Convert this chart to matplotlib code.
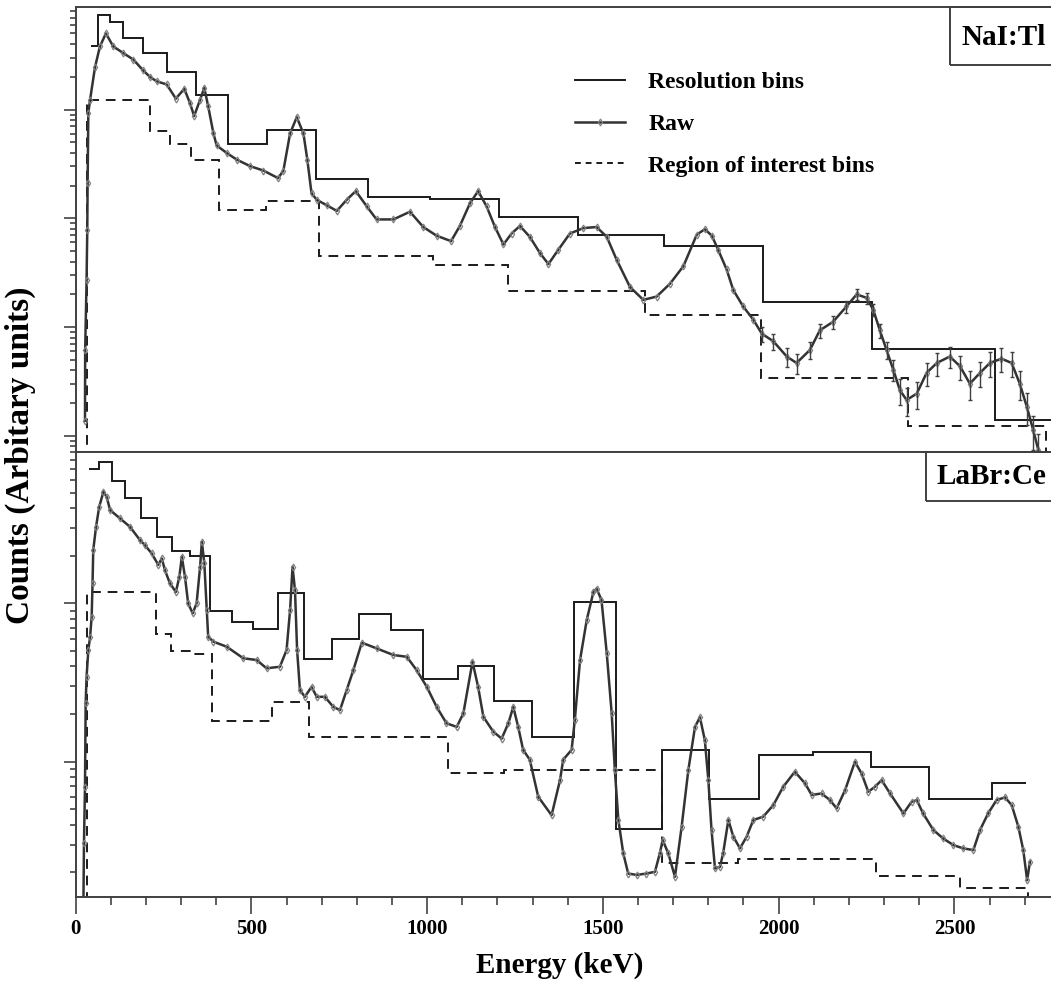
import numpy as np
import matplotlib.pyplot as plt
from matplotlib.lines import Line2D
from matplotlib.patches import Rectangle

plt.rcParams['font.family'] = ['Liberation Serif', 'DejaVu Serif']
plt.rcParams['font.weight'] = 'bold'

# NaI:Tl spectrum (top panel)
nai_energy = [26.5, 27, 31, 33, 34, 36, 41, 55, 69, 86, 107, 135, 164, 192, 211, 230, 259, 285,
              309, 325, 337, 354, 366, 377, 392, 401, 430, 458, 496, 534, 576, 591, 610, 629,
              648, 659, 671, 686, 714, 743, 771, 797, 828, 856, 904, 951, 989, 1027, 1068, 1093,
              1122, 1145, 1169, 1193, 1217, 1240, 1264, 1292, 1321, 1345, 1373, 1406, 1444, 1482,
              1511, 1539, 1577, 1615, 1653, 1691, 1729, 1767, 1790, 1810, 1828, 1852, 1871, 1899,
              1928, 1952, 1985, 2023, 2051, 2089, 2117, 2155, 2193, 2222, 2250, 2269, 2288, 2307,
              2326, 2345, 2364, 2393, 2421, 2450, 2487, 2516, 2544, 2573, 2601, 2634, 2663, 2686,
              2706, 2724, 2739, 2750]
nai_raw = [13.8, 61.7, 269, 776, 2090, 9330, 12300, 24500, 38000, 50100, 38000, 33100, 28800,
           22900, 20000, 18200, 17000, 12600, 15500, 11500, 8710, 12300, 15800, 10700, 6030, 4680,
           3980, 3470, 3020, 2750, 2340, 2750, 6030, 8510, 6030, 3470, 1700, 1480, 1320, 1170,
           1480, 1780, 1290, 977, 977, 1150, 832, 692, 617, 851, 1380, 1780, 1290, 832, 575, 724,
           851, 676, 479, 380, 513, 724, 813, 832, 676, 417, 234, 178, 191, 251, 363, 708, 794,
           692, 513, 339, 219, 155, 117, 87.1, 74.1, 53.7, 46.8, 61.7, 93.3, 112, 155, 200, 186,
           145, 93.3, 61.7, 40.7, 26.3, 21.4, 24.5, 38.0, 46.8, 53.7, 43.7, 30.2, 38.0, 46.8,
           51.3, 46.8, 30.2, 18.6, 11.4, 7.4, 5.0]
# error bars on the low-count tail, starting at 1952 keV
nai_tail_start = 79
nai_tail_err = [14, 12, 11, 10, 11, 14, 15, 20, 24, 22, 19, 14, 11, 9, 7, 6, 7, 9, 11, 12, 11,
                9, 10, 12, 13, 12, 9, 6, 4, 3, 2]
nai_res_edges = [43, 64, 98, 135, 192, 259, 341, 434, 545, 683, 832, 1008, 1204, 1428, 1675,
                 1955, 2265, 2615, 2800]
nai_res = [38000, 74100, 63100, 45700, 33100, 21900, 13500, 4790, 6460, 2290, 1580, 1510, 1020,
           708, 562, 170, 63, 14]
nai_roi_edges = [31, 211, 268, 327, 408, 541, 693, 1016, 1231, 1620, 1950, 2369, 2760]
nai_roi = [12300, 6310, 4790, 3470, 1200, 1450, 447, 372, 214, 129, 33.9, 12.4]

# LaBr:Ce spectrum (bottom panel)
labr_energy = [21.6, 23.6, 26.5, 28.4, 31, 36, 41, 45.5, 48, 50, 58, 67, 79, 88, 98, 126, 154,
               183, 197, 216, 235, 245, 254, 268, 285, 295, 302, 311, 320, 333, 344, 354, 359,
               366, 373, 377, 392, 430, 477, 515, 543, 581, 600, 610, 617, 624, 630, 638, 652,
               671, 686, 709, 733, 752, 771, 790, 814, 856, 904, 942, 970, 999, 1027, 1055, 1084,
               1103, 1129, 1145, 1160, 1188, 1212, 1231, 1245, 1259, 1273, 1292, 1316, 1354, 1378,
               1387, 1411, 1420, 1435, 1454, 1473, 1482, 1496, 1511, 1525, 1534, 1544, 1558, 1572,
               1596, 1624, 1648, 1662, 1670, 1686, 1705, 1724, 1743, 1762, 1776, 1790, 1800, 1809,
               1819, 1833, 1842, 1857, 1871, 1890, 1909, 1928, 1956, 1985, 2013, 2046, 2075, 2094,
               2122, 2146, 2165, 2189, 2217, 2236, 2255, 2274, 2293, 2317, 2355, 2378, 2393, 2411,
               2440, 2468, 2497, 2525, 2554, 2573, 2596, 2620, 2644, 2663, 2682, 2696, 2707, 2715]
labr_raw = [1.0, 3.05, 6.95, 23.4, 34.4, 50.7, 61.5, 82.2, 134, 217, 305, 407, 507, 471, 388,
            344, 305, 251, 233, 207, 175, 192, 162, 134, 118, 147, 197, 147, 100, 86.5, 100, 170,
            245, 179, 90.8, 61.5, 57.3, 53.2, 45.0, 43.9, 38.9, 39.8, 50.7, 90.8, 170, 121, 50.7,
            28.4, 25.7, 29.7, 25.7, 25.7, 22.2, 21.2, 28.4, 37.9, 56.5, 52.0, 47.2, 46.0, 37.9,
            29.7, 22.2, 17.5, 16.6, 20.2, 42.8, 29.7, 19.2, 15.5, 14.0, 17.5, 22.2, 16.6, 11.9,
            10.3, 6.01, 4.60, 7.66, 10.3, 11.9, 18.3, 43.9, 78.5, 118, 124, 105, 48.3, 20.2, 8.85,
            4.29, 2.64, 1.97, 1.93, 1.97, 2.02, 2.64, 3.21, 2.64, 1.88, 3.89, 8.85, 16.6, 19.1,
            13.7, 7.66, 3.71, 2.12, 2.17, 2.64, 4.29, 3.37, 2.84, 3.37, 4.29, 4.50, 5.33, 6.95,
            8.65, 7.31, 6.17, 6.31, 5.73, 5.08, 6.62, 10.0, 8.43, 6.47, 6.95, 7.66, 6.31, 4.72,
            5.58, 5.73, 4.72, 3.71, 3.28, 2.98, 2.84, 2.77, 3.71, 4.72, 5.73, 5.96, 5.33, 3.89,
            2.77, 1.79, 2.34]
labr_res_edges = [39, 67, 102, 140, 185, 230, 273, 325, 382, 444, 505, 577, 650, 728, 807, 897,
                  989, 1087, 1191, 1299, 1417, 1537, 1668, 1803, 1945, 2098, 2263, 2428, 2606, 2704]
labr_res = [702, 783, 592, 460, 347, 261, 215, 199, 89.7, 76.6, 68.9, 117, 44.3, 59.8, 85.3, 67.8,
            33.4, 40.0, 24.2, 14.3, 102, 3.74, 11.9, 5.79, 11.0, 11.5, 9.29, 5.79, 7.31]
labr_roi_edges = [31, 228, 270, 330, 387, 558, 665, 1059, 1220, 1668, 1883, 2277, 2516, 2710]
labr_roi = [118, 64.0, 50.0, 47.9, 18.2, 23.7, 14.4, 8.47, 8.85, 2.29, 2.45, 1.90, 1.59]

x_ticks = [0, 500, 1000, 1500, 2000, 2500]

fig = plt.figure(figsize=(10.51, 9.81), dpi=100)
ax1 = fig.add_axes([0.0720, 0.5390, 0.9364, 0.4536])
ax2 = fig.add_axes([0.0720, 0.0859, 0.9364, 0.4536])

raw_style = dict(color='0.2', lw=1.8, marker='d', ms=3.5, mfc='none', mec='0.5', mew=0.9)

for ax, e, raw, re, rv, oe, ov, ylim in [
        (ax1, nai_energy, nai_raw, nai_res_edges, nai_res, nai_roi_edges, nai_roi, (7.08, 87100)),
        (ax2, labr_energy, labr_raw, labr_res_edges, labr_res, labr_roi_edges, labr_roi, (1.406, 906))]:
    ax.set_yscale('log')
    ax.stairs(rv, re, baseline=None, color='#1a1a1a', lw=1.4)
    ax.stairs(ov, oe, baseline=0.5, color='#1a1a1a', lw=1.4, ls=(0, (5, 3.5)))
    ax.plot(e, raw, **raw_style)
    ax.set_xlim(0, 2800)
    ax.set_ylim(*ylim)
    ax.tick_params(axis='y', which='both', direction='out', labelleft=False, width=1.1, color='0.2')
    ax.tick_params(axis='y', which='major', length=9)
    ax.tick_params(axis='y', which='minor', length=4)
    for s in ax.spines.values():
        s.set_linewidth(1.4)
        s.set_color('0.25')

ax1.errorbar(nai_energy[nai_tail_start:], nai_raw[nai_tail_start:], yerr=nai_tail_err,
             fmt='none', ecolor='0.25', elinewidth=1.0, capsize=1.5)

ax1.tick_params(axis='x', which='both', bottom=False, labelbottom=False)
ax2.set_xticks(x_ticks)
ax2.set_xticks(np.arange(0, 2801, 100), minor=True)
ax2.tick_params(axis='x', which='major', length=12, width=1.1, pad=4, labelsize=15, color='0.2')
ax2.tick_params(axis='x', which='minor', length=6, width=1.1, color='0.2')

# detector name boxes
ax1.add_patch(Rectangle((0.8883, 0.8703), 0.2, 0.1297, transform=ax1.transAxes,
                        fill=False, lw=1.3, ec='0.2', clip_on=False))
ax1.text(0.9005, 0.932, 'NaI:Tl', transform=ax1.transAxes, fontsize=21, va='center', ha='left')
ax2.add_patch(Rectangle((0.8639, 0.8892), 0.2, 0.1108, transform=ax2.transAxes,
                        fill=False, lw=1.3, ec='0.2', clip_on=False))
ax2.text(0.8751, 0.9454, 'LaBr:Ce', transform=ax2.transAxes, fontsize=21, va='center', ha='left')

handles = [Line2D([], [], color='#1a1a1a', lw=1.4),
           Line2D([], [], **raw_style),
           Line2D([], [], color='#1a1a1a', lw=1.4, ls=(0, (3, 2.5)))]
ax1.legend(handles, ['Resolution bins', 'Raw', 'Region of interest bins'],
           loc='upper left', bbox_to_anchor=(0.5074, 0.855), frameon=False, fontsize=17,
           borderpad=0, borderaxespad=0, handlelength=2.1, handletextpad=1.0, labelspacing=0.85)

fig.text(20 / 1051, 1 - 455 / 981, 'Counts (Arbitary units)', rotation=90, fontsize=24,
         ha='center', va='center')
fig.text(560 / 1051, 1 - 965 / 981, 'Energy (keV)', fontsize=21, ha='center', va='center')

fig.savefig('out.png', dpi=100)
